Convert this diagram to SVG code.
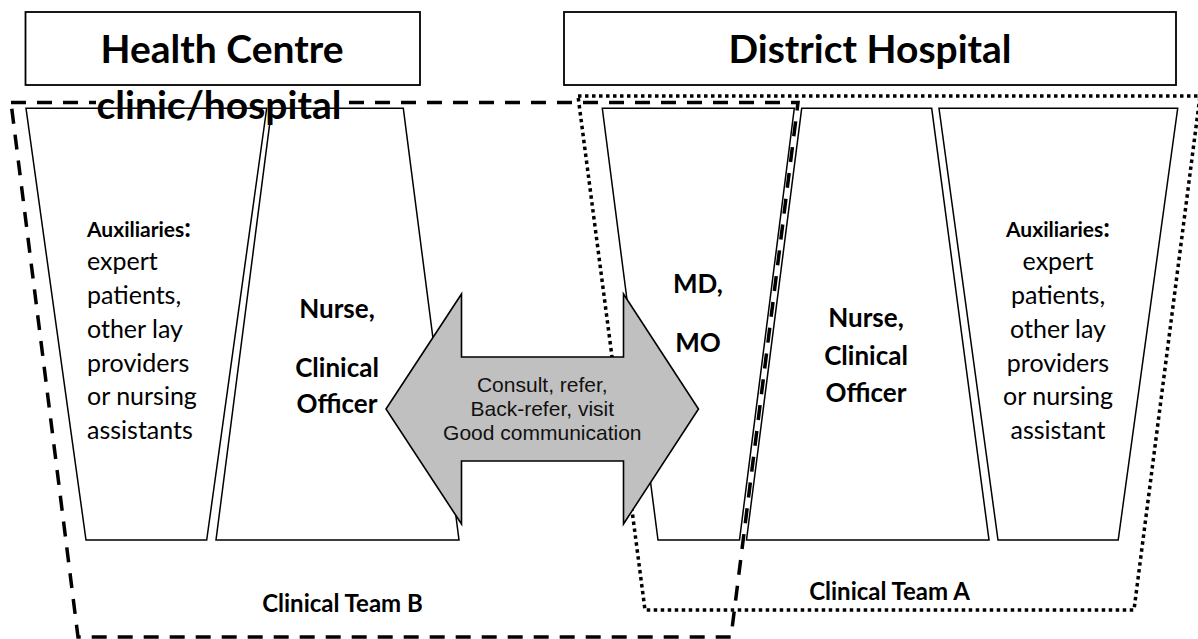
<svg xmlns="http://www.w3.org/2000/svg" width="1198" height="639" viewBox="0 0 1198 639">
  <style>
    .hdr { fill: #ffffff; stroke: #000000; stroke-width: 1.8; }
    .hdr-text { font-family: Lato, "Liberation Sans", sans-serif; font-weight: bold; font-size: 39px; fill: #000000; text-anchor: middle; }
    .cell { fill: none; stroke: #000000; stroke-width: 1.5; stroke-linejoin: miter; }
    .team-b { fill: none; stroke: #000000; stroke-width: 3.5; stroke-dasharray: 15 11; }
    .team-a { fill: none; stroke: #000000; stroke-width: 3.5; stroke-dasharray: 3.5 3.5; }
    .arrow { fill: #c0c0c0; stroke: #000000; stroke-width: 1.6; stroke-linejoin: miter; }
    .arrow-text { font-family: "Liberation Sans", Arial, sans-serif; font-size: 21px; fill: #111111; text-anchor: middle; }
    .reg { font-family: Lato, "Liberation Sans", sans-serif; font-size: 25px; fill: #000000; }
    .bold { font-family: Lato, "Liberation Sans", sans-serif; font-weight: bold; font-size: 26px; fill: #000000; }
    .aux { font-family: Lato, "Liberation Sans", sans-serif; font-weight: bold; font-size: 21px; fill: #000000; }
    .colon { font-size: 26px; }
    .mid { text-anchor: middle; }
    .team { font-family: Lato, "Liberation Sans", sans-serif; font-weight: bold; font-size: 24px; fill: #000000; text-anchor: middle; }
  </style>

  <!-- level headers -->
  <g id="health-centre">
    <rect class="hdr" x="25.5" y="12" width="394.5" height="73"/>
    <text class="hdr-text" x="222" y="63">Health Centre</text>
  </g>
  <g id="district-hospital">
    <rect class="hdr" x="564" y="12" width="612" height="73"/>
    <text class="hdr-text" x="870" y="63">District Hospital</text>
  </g>

  <!-- team boundaries -->
  <g id="team-a-boundary">
    <path class="team-a" d="M578,96 L1200,96 L1134,610 L645,610 Z"/>
  </g>
  <g id="team-b-boundary">
    <path class="team-b" d="M11,102.5 L798,102.5 L731,637 L78,637 Z"/>
    <!-- label backing that interrupts the dashed edge -->
    <rect x="96" y="97" width="247" height="10" fill="#ffffff"/>
    <text class="hdr-text" x="219" y="119">clinic/hospital</text>
  </g>

  <!-- health centre cadres -->
  <g id="hc-auxiliaries">
    <path class="cell" d="M26,108.3 L266.7,108.3 L206.7,540 L86,540 Z"/>
    <text class="aux" x="87" y="236.5">Auxiliaries<tspan class="colon">:</tspan></text>
    <text class="reg" x="87" y="270.3">expert</text>
    <text class="reg" x="87" y="304">patients,</text>
    <text class="reg" x="87" y="337.8">other lay</text>
    <text class="reg" x="87" y="371.5">providers</text>
    <text class="reg" x="87" y="405.3">or nursing</text>
    <text class="reg" x="87" y="439">assistants</text>
  </g>
  <g id="hc-nurse">
    <path class="cell" d="M271.7,108.3 L403.3,108.3 L459,540 L216,540 Z"/>
    <text class="bold mid" x="337" y="318">Nurse,</text>
    <text class="bold mid" x="337" y="376.5">Clinical</text>
    <text class="bold mid" x="337" y="413.3">Officer</text>
  </g>

  <!-- district hospital cadres -->
  <g id="dh-md">
    <path class="cell" d="M602.3,108.3 L794.3,108.3 L739.5,540 L658,540 Z"/>
    <text class="bold mid" x="698" y="292.7">MD,</text>
    <text class="bold mid" x="698" y="351.7">MO</text>
  </g>
  <g id="dh-nurse">
    <path class="cell" d="M801.7,108.3 L931.7,108.3 L989,540 L746.5,540 Z"/>
    <text class="bold mid" x="866" y="326.7">Nurse,</text>
    <text class="bold mid" x="866" y="365">Clinical</text>
    <text class="bold mid" x="866" y="401.7">Officer</text>
  </g>
  <g id="dh-auxiliaries">
    <path class="cell" d="M939,108.3 L1177.7,108.3 L1118.2,540 L998,540 Z"/>
    <text class="aux mid" x="1058" y="236.5">Auxiliaries<tspan class="colon">:</tspan></text>
    <text class="reg mid" x="1058" y="270.3">expert</text>
    <text class="reg mid" x="1058" y="304">patients,</text>
    <text class="reg mid" x="1058" y="337.8">other lay</text>
    <text class="reg mid" x="1058" y="371.5">providers</text>
    <text class="reg mid" x="1058" y="405.3">or nursing</text>
    <text class="reg mid" x="1058" y="439">assistant</text>
  </g>

  <!-- two-way link between the levels -->
  <g id="connectors">
    <path class="arrow" d="M386,409 L461.5,294 L461.5,357 L623.5,357 L623.5,294 L698.5,409 L623.5,524 L623.5,461 L461.5,461 L461.5,524 Z"/>
    <text class="arrow-text" x="542.3" y="391.7">Consult, refer,</text>
    <text class="arrow-text" x="542.3" y="415.7">Back-refer, visit</text>
    <text class="arrow-text" x="542.3" y="439.5">Good communication</text>
  </g>

  <!-- team labels -->
  <g id="team-labels">
    <text class="team" x="342.5" y="612">Clinical Team B</text>
    <text class="team" x="889.5" y="600">Clinical Team A</text>
  </g>
</svg>
